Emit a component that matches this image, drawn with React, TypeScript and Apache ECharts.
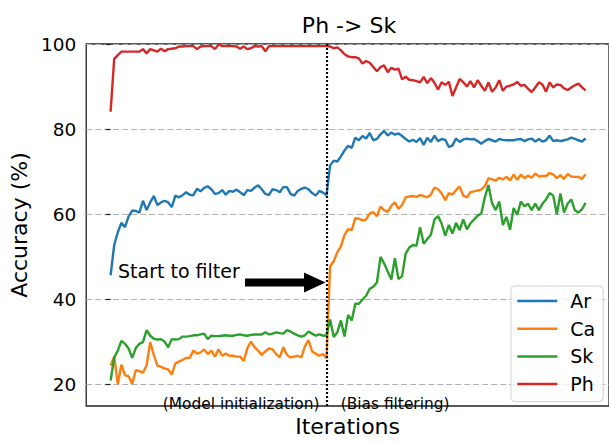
import React, { useEffect, useRef } from 'react';
import * as echarts from 'echarts';

const FONT = 'DejaVu Sans';

const seriesNames = ['Ar', 'Ca', 'Sk', 'Ph'];
const seriesColors = ['#1f77b4', '#ff7f0e', '#2ca02c', '#d62728'];
const yTicks = [20, 40, 60, 80, 100];
const filterStartIteration = 60;

// Ar
const ar = [
  45.7, 52.8, 55.8, 58.0, 57.0, 59.5, 60.9, 60.8, 60.4, 63.2,
  61.0, 62.8, 64.3, 62.2, 62.8, 63.2, 62.8, 61.7, 64.4, 64.0,
  64.5, 65.2, 64.6, 64.5, 66.0, 65.4, 66.2, 66.6, 65.9, 64.8,
  65.0, 65.7, 64.6, 65.5, 65.3, 65.8, 65.2, 64.5, 65.7, 65.5,
  66.3, 66.8, 65.9, 64.8, 64.5, 65.9, 65.7, 65.2, 66.4, 66.4,
  64.8, 64.4, 65.5, 66.0, 66.3, 65.9, 65.0, 64.4, 65.5, 65.1,
  64.5,
  71.5, 72.6, 72.4, 73.6, 75.0, 76.1, 75.6, 78.0, 77.4, 78.4,
  77.8, 79.1, 77.4, 77.7, 78.8, 79.6, 78.5, 79.2, 78.7, 79.0,
  78.4, 77.7, 77.1, 77.5, 77.0, 77.9, 76.3, 78.0, 77.0, 78.5,
  77.2, 77.7, 77.5, 75.8, 76.2, 77.8, 77.0, 77.6, 77.8, 77.6,
  77.7, 77.2, 76.6, 77.2, 77.7, 77.4, 77.1, 77.7, 77.5, 77.4,
  77.4, 77.4, 77.6, 77.7, 77.2, 77.6, 77.8, 77.1, 77.7, 77.1,
  77.4, 78.5, 77.2, 77.4, 77.2, 77.4, 77.6, 78.0, 77.7, 77.4,
  77.1, 77.8,
];

// Ca
const ca = [
  24.5, 26.6, 20.1, 24.7, 22.2, 22.0, 20.2, 23.4, 23.2, 22.8,
  24.5, 30.0, 27.0, 24.5, 24.2, 23.8, 23.6, 22.4, 25.0, 25.4,
  25.8, 26.3, 26.3, 28.0, 27.3, 27.6, 28.3, 27.2, 28.0, 26.6,
  28.3, 26.8, 27.3, 26.8, 26.8, 26.6, 26.6, 25.6, 28.6, 30.1,
  28.8, 28.0, 27.0, 27.8, 28.5, 28.3, 27.2, 26.4, 28.8, 27.0,
  26.4, 26.6, 26.8, 26.4, 29.0, 30.5, 27.8, 27.3, 26.8, 27.2,
  26.2,
  47.8, 49.0, 51.1, 52.5, 55.2, 56.5, 56.3, 59.1, 59.0, 58.6,
  58.8, 60.2, 60.5, 59.6, 61.8, 61.0, 60.6, 62.0, 62.8, 61.3,
  62.2, 64.0, 64.2, 64.3, 64.1, 64.5, 64.3, 64.0, 64.6, 66.3,
  65.9, 64.9, 63.3, 65.0, 64.6, 65.7, 66.5, 64.4, 64.0, 65.2,
  65.4, 65.6, 65.8, 66.6, 68.5, 68.2, 67.9, 68.6, 68.2, 68.8,
  68.0, 69.3, 68.1, 69.3, 68.5, 69.1, 68.6, 69.6, 68.9, 69.0,
  69.0, 69.7, 69.4, 68.5, 69.2, 68.3, 69.5, 68.9, 68.8, 68.8,
  68.3, 69.4,
];

// Sk
const sk = [
  21.0, 26.4, 28.0, 30.3, 29.6, 28.5, 26.3, 28.6, 29.6, 30.0,
  32.8, 31.5, 30.8, 30.6, 30.7, 30.1, 28.8, 30.7, 30.6, 30.7,
  31.3, 31.3, 31.4, 31.6, 31.6, 31.8, 32.0, 30.7, 31.5, 31.4,
  31.4, 31.5, 31.6, 31.5, 31.5, 31.7, 31.8, 31.6, 31.5, 31.7,
  31.8, 31.8, 31.8, 32.3, 31.8, 32.0, 32.3, 32.1, 32.0, 32.8,
  32.5, 32.0, 31.6, 31.3, 31.6, 32.5, 32.0, 31.5, 31.8, 31.5,
  31.6,
  35.3, 31.2, 32.3, 35.1, 31.3, 36.4, 35.1, 39.0, 39.0, 40.0,
  40.9, 42.5, 43.0, 44.0, 50.0, 48.5, 46.6, 44.7, 49.7, 44.8,
  45.5, 50.8, 52.2, 52.8, 52.6, 57.0, 53.1, 54.2, 55.2, 58.8,
  59.6, 57.8, 55.0, 57.5, 55.5, 58.0, 56.3, 58.8, 56.5, 57.9,
  58.8, 59.7, 60.2, 64.0, 66.9, 62.6, 61.0, 63.0, 57.5, 59.4,
  56.4, 61.5, 59.9, 63.0, 61.9, 62.5, 61.0, 62.5, 61.0, 62.5,
  63.5, 65.0, 64.4, 60.0, 64.9, 60.4, 62.5, 63.5, 61.0, 60.4,
  61.2, 62.7,
];

// Ph
const ph = [
  84.1, 96.5, 97.4, 98.2, 98.2, 98.2, 98.2, 98.2, 98.2, 98.8,
  97.8, 98.8, 98.5, 98.2, 98.9, 98.3, 98.8, 98.9, 99.0, 99.4,
  99.4, 99.5, 99.5, 99.5, 98.8, 99.4, 99.5, 99.5, 99.5, 98.8,
  99.9, 99.5, 99.5, 99.5, 99.5, 99.4, 98.9, 99.4, 98.8, 99.0,
  99.5, 99.4, 99.5, 98.3, 99.5, 99.5, 99.5, 99.5, 99.5, 99.5,
  99.5, 99.5, 99.5, 99.5, 99.5, 99.5, 99.5, 99.5, 99.5, 99.5,
  99.5,
  99.4, 99.0, 99.2, 98.5, 97.6, 97.1, 96.9, 96.9, 96.6, 95.4,
  96.0, 95.6, 94.6, 93.6, 94.6, 95.0, 93.4, 94.4, 94.0, 94.2,
  91.7, 92.3, 91.6, 91.5, 91.3, 91.0, 92.3, 90.8, 92.0, 90.9,
  89.3, 91.0, 90.4, 91.1, 87.8, 89.8, 91.8, 91.0, 90.0, 91.3,
  89.8, 91.5, 90.2, 89.0, 91.0, 88.8, 89.8, 91.5, 89.0, 90.0,
  90.2, 90.5, 91.1, 90.2, 90.4, 89.5, 88.7, 89.8, 91.0, 90.5,
  88.8, 91.0, 89.8, 90.5, 90.4, 89.6, 89.2, 89.8, 90.3, 90.7,
  89.8, 89.1,
];

const seriesValues = [ar, ca, sk, ph];

export default function App() {
  const ref = useRef<HTMLDivElement>(null);

  useEffect(() => {
    document.body.style.margin = '0';
    const chart = echarts.init(ref.current as HTMLDivElement, null, { renderer: 'svg' });

    const series: any[] = seriesNames.map((name, k) => ({
      name,
      type: 'line',
      data: seriesValues[k].map((v, i) => [i, v]),
      showSymbol: false,
      symbol: 'none',
      lineStyle: { color: seriesColors[k], width: 2.4 },
      itemStyle: { color: seriesColors[k] },
      silent: true,
    }));
    series[3].markLine = {
      silent: true,
      symbol: ['none', 'none'],
      label: { show: false },
      lineStyle: { color: '#000', type: [2, 2], width: 2.2 },
      data: [{ xAxis: filterStartIteration }],
    };

    chart.setOption({
      animation: false,
      textStyle: { fontFamily: FONT },
      title: {
        text: 'Ph -> Sk',
        left: 349,
        top: 25.4,
        padding: 0,
        textAlign: 'center',
        textVerticalAlign: 'middle',
        textStyle: { fontFamily: FONT, fontSize: 22, fontWeight: 'normal', color: '#000' },
      },
      grid: {
        left: 84,
        top: 44,
        width: 529,
        height: 367,
        show: true,
        borderColor: '#222',
        borderWidth: 1.3,
        backgroundColor: 'transparent',
      },
      xAxis: {
        type: 'value',
        min: -6.78,
        max: 138.5,
        name: 'Iterations',
        nameLocation: 'middle',
        nameGap: 9,
        nameTextStyle: { fontFamily: FONT, fontSize: 22, color: '#000', lineHeight: 22 },
        axisLine: { show: false },
        axisTick: { show: false },
        axisLabel: { show: false },
        splitLine: { show: false },
      },
      yAxis: {
        type: 'value',
        min: 15,
        max: 100,
        splitNumber: 5,
        name: 'Accuracy (%)',
        nameLocation: 'middle',
        nameGap: 52,
        nameTextStyle: { fontFamily: FONT, fontSize: 22, color: '#000', lineHeight: 22 },
        axisLine: { show: false },
        axisTick: {
          show: true,
          inside: false,
          length: 5,
          customValues: yTicks,
          lineStyle: { color: '#222', width: 1.2 },
        },
        axisLabel: {
          customValues: yTicks,
          fontFamily: FONT,
          fontSize: 18.5,
          color: '#000',
          margin: 10,
        },
        splitLine: { show: true, lineStyle: { color: '#b0b0b0', type: [6, 3], width: 1 } },
      },
      legend: {
        data: seriesNames,
        orient: 'vertical',
        left: 511,
        top: 286,
        padding: [5.5, 8, 8, 6.3],
        itemWidth: 40,
        itemHeight: 2.5,
        itemGap: 8.7,
        icon: 'rect',
        backgroundColor: 'rgba(255,255,255,0.8)',
        borderColor: '#d0d0d0',
        borderWidth: 1,
        borderRadius: 4,
        textStyle: { fontFamily: FONT, fontSize: 19, color: '#000', lineHeight: 19, padding: [0, 0, 0, 8] },
      },
      graphic: [
        {
          type: 'polygon',
          silent: true,
          shape: {
            points: [
              [245, 278.5], [304, 278.5], [304, 272.5], [325.5, 282.5],
              [304, 292.5], [304, 286.5], [245, 286.5],
            ],
          },
          style: { fill: '#000' },
        },
        {
          type: 'text',
          silent: true,
          x: 118,
          y: 271.4,
          style: { text: 'Start to filter', fontFamily: FONT, fontSize: 19, fill: '#000', align: 'left', verticalAlign: 'middle' },
        },
        {
          type: 'text',
          silent: true,
          x: 319.5,
          y: 403.5,
          style: { text: '(Model initialization)', fontFamily: FONT, fontSize: 15.4, fill: '#000', align: 'right', verticalAlign: 'middle' },
        },
        {
          type: 'text',
          silent: true,
          x: 340.7,
          y: 403.5,
          style: { text: '(Bias filtering)', fontFamily: FONT, fontSize: 15.4, fill: '#000', align: 'left', verticalAlign: 'middle' },
        },
      ],
      series,
    });

    return () => chart.dispose();
  }, []);

  return <div ref={ref} style={{ width: 609, height: 442 }} />;
}
